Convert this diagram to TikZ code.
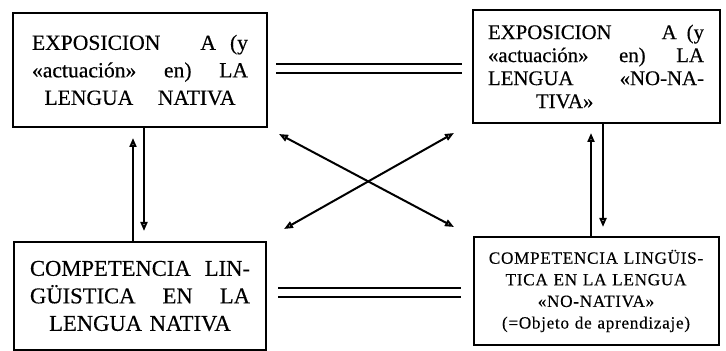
\documentclass[tikz,border=0pt]{standalone}
\usepackage{fontspec}
\setmainfont{Liberation Serif}
\newfontfamily\normalita{Liberation Serif}[FakeBold=0.4]
\newfontfamily\ancha{Liberation Serif}[LetterSpace=4, FakeBold=0.3]
\usepackage{tikz}
\usetikzlibrary{arrows.meta, positioning}
\newcommand{\fullline}[2]{\makebox[#1]{#2}}
\tikzset{
  caja/.style={draw, line width=1pt, align=center, inner sep=0pt},
  flecha/.style={line width=1pt, -{Triangle[open, length=4.5pt, width=3.5pt]}},
  cruce/.style={line width=1pt, {Triangle[open, length=4.5pt, width=3.5pt]}-{Triangle[open, length=4.5pt, width=3.5pt]}},
  igual/.style={double, line width=1pt, double distance=3.5pt}
}

\begin{document}
\begin{tikzpicture}[x=0.5pt, y=-0.5pt]
	\useasboundingbox (0,0) rectangle (726,351);
	% Boxes:
	\node[caja, minimum width=127pt, minimum height=57pt, text width=108pt, font=\normalita\fontsize{10.8}{13.75}\selectfont](natExp) at (140,70){\fullline{108pt}{EXPOSICION\hfill A\hspace{7pt}(y}\\\fullline{108pt}{«actuación»\hfill en)\hfill LA}\\\fullline{95.5pt}{LENGUA\hfill NATIVA}};
	\node[caja, minimum width=123.5pt, minimum height=56.5pt, text width=108pt, font=\normalita\fontsize{10.4}{11.5}\selectfont](nonExp) at (596,66.5){\fullline{108pt}{EXPOSICION\hfill A\hspace{5pt}(y}\\\fullline{108pt}{«actuación»\hfill en)\hfill LA}\\\fullline{108pt}{LENGUA\hfill «NO-NA-}\\\fullline{108pt}{\hspace{24pt}TIVA»\hfill}};
	\node[caja, minimum width=126pt, minimum height=54pt, text width=110pt, font=\normalita\fontsize{11.3}{13.75}\selectfont](natComp) at (140,296){\fullline{110pt}{COMPETENCIA\hfill LIN-}\\\fullline{110pt}{GÜISTICA\hfill EN\hfill LA}\\LENGUA NATIVA};
	\node[caja, minimum width=122.5pt, minimum height=54pt, text width=120pt, font=\ancha\fontsize{8.6}{10.8}\selectfont](nonComp) at (596,291){COMPETENCIA LINGÜIS-\\TICA EN LA LENGUA\\«NO-NATIVA»\\(=Objeto de aprendizaje)};
	% Equivalences:
	\draw[igual] ([xshift=4pt, yshift=0.75pt]natExp.east) -- ([xshift=-4.75pt, yshift=-1pt]nonExp.west);
	\draw[igual] ([xshift=5.5pt, yshift=1.75pt]natComp.east) -- ([xshift=-5.75pt, yshift=-0.75pt]nonComp.west);
	% Vertical arrows:
	\draw[flecha] ([xshift=-3.5pt]natComp.north) -- ([xshift=-3.5pt, yshift=-5pt]natExp.south);
	\draw[flecha] ([xshift=2pt]natExp.south) -- ([xshift=2pt, yshift=5pt]natComp.north);
	\draw[flecha] ([xshift=-2.5pt]nonComp.north) -- ([xshift=-2.5pt, yshift=-4.5pt]nonExp.south);
	\draw[flecha] ([xshift=3.5pt]nonExp.south) -- ([xshift=3.5pt, yshift=4.5pt]nonComp.north);
	% Crossed arrows:
	\draw[cruce] ([xshift=5.5pt, yshift=-3pt]natExp.south east) -- ([xshift=-9.25pt, yshift=4.5pt]nonComp.north west);
	\draw[cruce] ([xshift=8.5pt, yshift=6pt]natComp.north east) -- ([xshift=-8.75pt, yshift=-4.5pt]nonExp.south west);
\end{tikzpicture}
\end{document}
